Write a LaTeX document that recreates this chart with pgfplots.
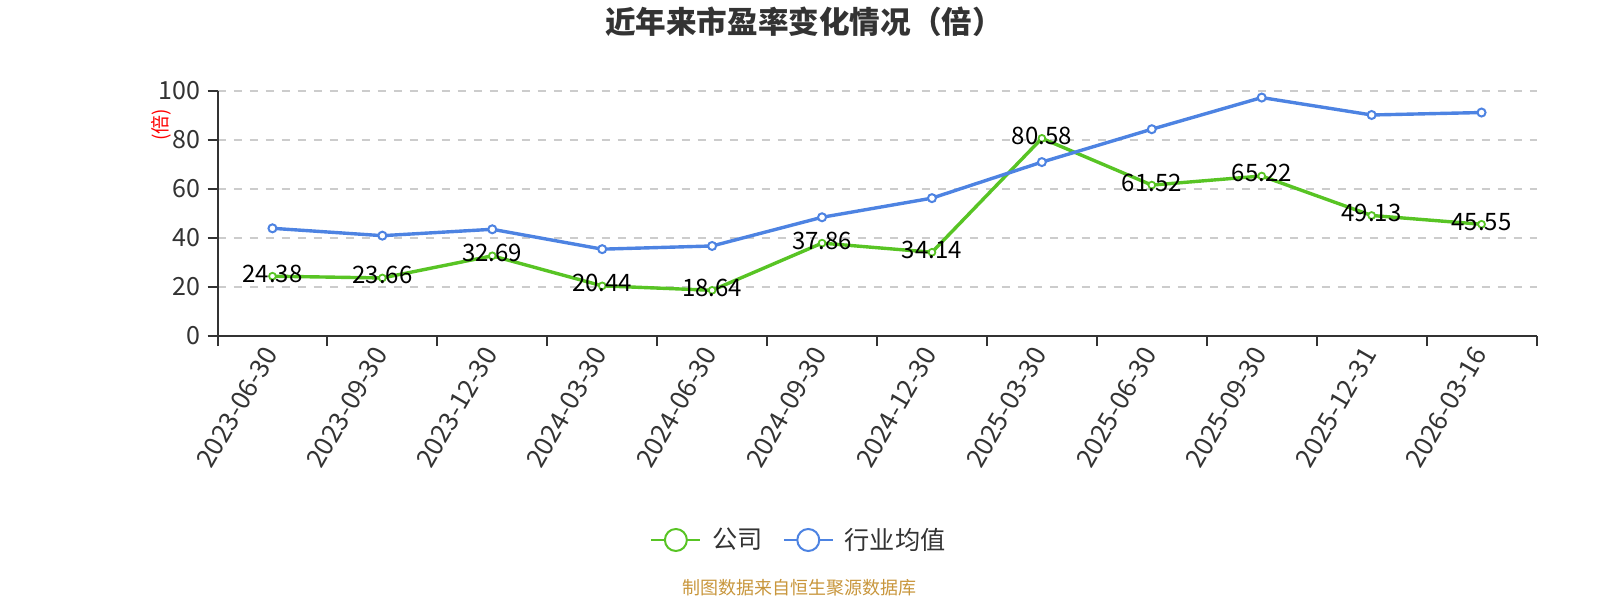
\documentclass[border=0pt]{standalone}
\usepackage{fontspec}
\usepackage{pgfplots}
\pgfplotsset{compat=1.18}
\setmainfont{Noto Sans CJK SC}
\definecolor{cgreen}{RGB}{88,196,36}
\definecolor{cblue}{RGB}{77,131,226}
\definecolor{axisgray}{RGB}{51,51,51}
\definecolor{gridgray}{RGB}{204,204,204}
\definecolor{titlegray}{RGB}{51,51,51}
\definecolor{footgold}{RGB}{200,150,60}

\pgfplotstableread{
x y lab
0 24.38 24.38
1 23.66 23.66
2 32.69 32.69
3 20.44 20.44
4 18.64 18.64
5 37.86 37.86
6 34.14 34.14
7 80.58 80.58
8 61.52 61.52
9 65.22 65.22
10 49.13 49.13
11 45.55 45.55
}\company
\pgfplotstableread{
x y
0 43.9
1 40.9
2 43.5
3 35.4
4 36.7
5 48.4
6 56.2
7 70.9
8 84.3
9 97.2
10 90.1
11 91.1
}\industry

\begin{document}
\begin{tikzpicture}
\useasboundingbox (0,0) rectangle (800pt,300pt);
\begin{axis}[
  at={(108.75pt,132pt)}, anchor=south west,
  scale only axis, width=659.5pt, height=122.65pt,
  xmin=-0.5, xmax=11.5, ymin=0, ymax=100,
  clip=false,
  axis x line*=bottom, axis y line*=left,
  axis line style={-, draw=axisgray, line width=1pt},
  xtick={0,...,11},
  xticklabels={2023-06-30,2023-09-30,2023-12-30,2024-03-30,2024-06-30,2024-09-30,2024-12-30,2025-03-30,2025-06-30,2025-09-30,2025-12-31,2026-03-16},
  minor xtick={-0.5,0.5,...,11.5},
  major x tick style={draw=none},
  minor x tick style={draw=axisgray, line width=1pt},
  y tick style={draw=axisgray, line width=1pt},
  tick align=outside,
  major tick length=5pt, minor tick length=5pt,
  ytick={0,20,...,100},
  ymajorgrids,
  grid style={dash pattern=on 4pt off 4pt, gridgray, line width=0.8pt},
  /pgf/number format/assume math mode=true,
  yticklabel style={font=\fontsize{12.5}{14}\selectfont, text=axisgray},
  xticklabel style={font=\fontsize{13}{15}\selectfont, text=axisgray, rotate=60, anchor=east, xshift=1.5pt},
  legend style={at={(0.4416,-0.8316)}, anchor=center, draw=none, fill=none,
    legend columns=-1, font=\fontsize{12.6}{14}\selectfont, text=axisgray,
    /tikz/every odd column/.append style={column sep=3.5pt},
    /tikz/every even column/.append style={column sep=8pt}},
  legend cell align=left,
]
\addplot[cgreen, line width=1.7pt, mark=*, mark size=1.7pt,
  mark options={fill=white, draw=cgreen, line width=0.9pt},
  nodes near coords, point meta=explicit symbolic,
  every node near coord/.append style={anchor=center, yshift=1.3pt, text=black, font=\fontsize{12}{14}\selectfont},
  legend image code/.code={
    \draw[cgreen, line width=1pt] (0pt,0pt) -- (24.5pt,0pt);
    \draw[cgreen, line width=1pt, fill=white] (12.25pt,0pt) circle (5.5pt);}
] table[x=x, y=y, meta=lab] {\company};
\addlegendentry{公司}
\addplot[cblue, line width=1.7pt, mark=*, mark size=2pt,
  mark options={fill=white, draw=cblue, line width=1pt},
  legend image code/.code={
    \draw[cblue, line width=1pt] (0pt,0pt) -- (24.5pt,0pt);
    \draw[cblue, line width=1pt, fill=white] (12.25pt,0pt) circle (5.5pt);}
] table[x=x, y=y] {\industry};
\addlegendentry{行业均值}
\end{axis}
\node[font=\bfseries\fontsize{15.3}{17}\selectfont, text=titlegray] at (402pt,288.85pt) {近年来市盈率变化情况（倍）};
\node[font=\fontsize{9.5}{11}\selectfont, text=red, rotate=90] at (80.5pt,237.5pt) {(倍)};
\node[font=\fontsize{9}{11}\selectfont, text=footgold] at (399.75pt,6pt) {制图数据来自恒生聚源数据库};
\end{tikzpicture}
\end{document}
